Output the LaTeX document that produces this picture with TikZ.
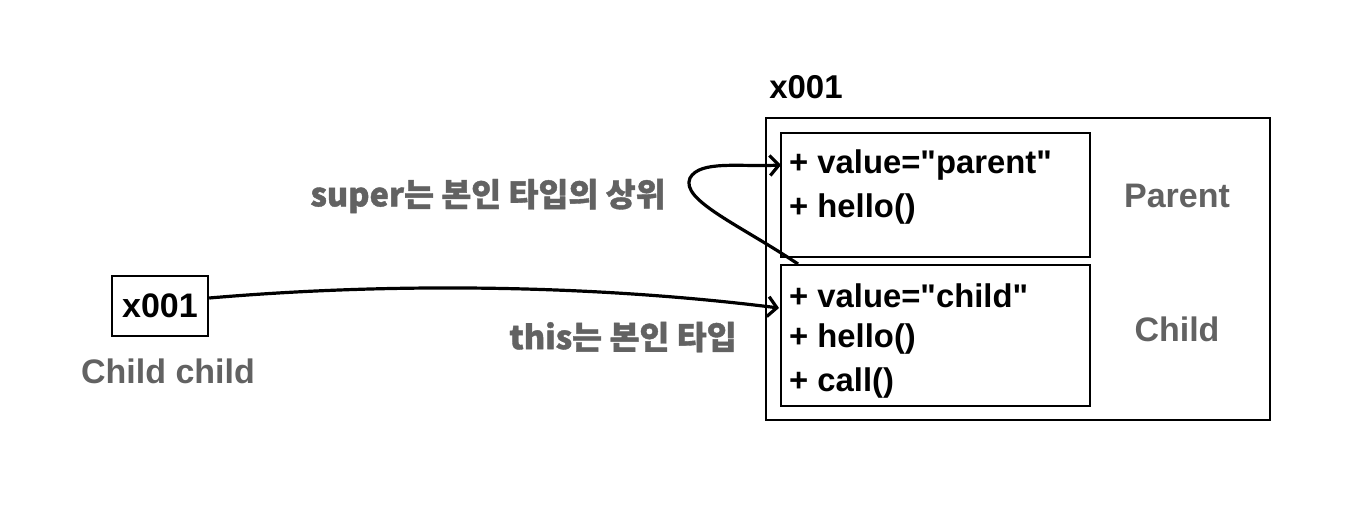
\documentclass[tikz,border=0pt]{standalone}
\usepackage{fontspec}
\setmainfont{Liberation Sans}[Ligatures=TeXOff]
\newfontfamily\kr{Noto Sans CJK KR}[BoldFeatures={FakeBold=1.2}]
\usetikzlibrary{arrows.meta}
\definecolor{lbl}{HTML}{626262}
\tikzset{
  box/.style={draw=black, line width=2.4pt, inner sep=0pt},
  memb/.style={anchor=west, inner sep=0pt, font=\fontsize{32.8}{34}\selectfont\bfseries},
  glbl/.style={text=lbl, inner sep=0pt, font=\fontsize{34}{36}\selectfont\bfseries},
  krl/.style={text=lbl, inner sep=0pt, font=\kr\fontsize{32.5}{34}\selectfont\bfseries},
  conn/.style={line width=3.2pt, -{Straight Barb[length=9pt,width=20pt,line width=3.2pt]}},
}
\begin{document}
\begin{tikzpicture}[x=1pt,y=-1pt]
\useasboundingbox (0,0) rectangle (1366,504);
% outer object
\draw[box] (766,118) rectangle (1270,420);
\node[inner sep=0pt, font=\fontsize{33}{34}\selectfont\bfseries] (addr) at (806,87) {x001};
% parent part
\draw[box] (781,133) rectangle (1090,257);
\coordinate (pl) at (781,165);
\node[memb] (p1) at (789,165) {+ value="parent"};
\node[memb] (p2) at (789,209) {+ hello()};
\node[glbl] (parent) at (1177,196) {Parent};
% child part
\draw[box] (781,265) rectangle (1090,406);
\coordinate (ct) at (798,264);
\coordinate (cl) at (779,308);
\node[memb] (c1) at (789,296) {+ value="child"};
\node[memb] (c2) at (789,339) {+ hello()};
\node[memb] (c3) at (789,383) {+ call()};
\node[glbl] (child) at (1177,329) {Child};
% variable
\node[box, minimum width=96pt, minimum height=60pt, font=\fontsize{34}{36}\selectfont\bfseries] (var) at (160,306) {x001};
\node[glbl] (vname) at (168,371) {Child child};
% labels
\node[krl] (superl) at (488,196) {super는 본인 타입의 상위};
\node[krl] (thisl) at (623,337) {this는 본인 타입};
% arrows
\draw[conn] (var.east) ++(0,-8) coordinate (vs) .. controls (420,280) and (620,288) .. (cl);
\draw[conn] (ct) .. controls (740,225) and (680,200) .. (690,178) .. controls (700,160) and (740,167) .. (pl);
\end{tikzpicture}
\end{document}
